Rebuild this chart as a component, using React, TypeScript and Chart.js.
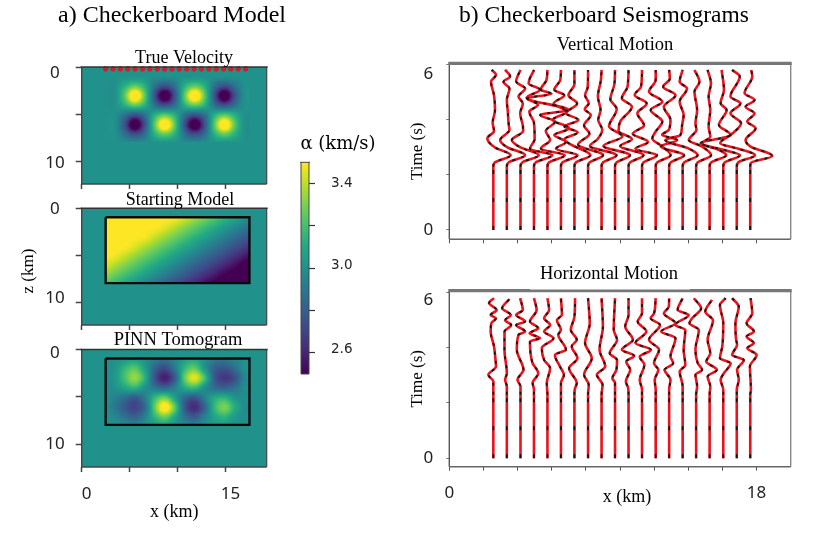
import { useEffect, useRef } from "react";
import { Chart, registerables } from "chart.js";

Chart.register(...registerables);

const W = 815;
const H = 535;
const SERIF = '"Liberation Serif", serif';

// ---------- Model panels ----------
const gridX = [2.35, 3.4, 4.45, 5.5, 6.55, 7.6, 8.65, 9.7, 10.75, 11.8, 12.85, 13.9, 14.95, 16.0, 17.05, 18.1];
const gridZ = [0.9, 1.95, 3.0, 4.05, 5.1, 6.15, 7.2, 8.25];
const modelXTicks = [0, 5, 10, 15];
const modelZTicks = [0, 5, 10];
const sourceX = [2.5, 3.27, 4.04, 4.8, 5.57, 6.34, 7.11, 7.88, 8.65, 9.42, 10.18, 10.95, 11.72, 12.49, 13.26, 14.03, 14.8, 15.56, 16.33, 17.1];
const boxX = [2.5, 17.5, 17.5, 2.5, 2.5];
const boxZ = [0.95, 0.95, 7.95, 7.95, 0.95];

const trueVelocity = [
  [3, 3, 3, 3, 3, 3, 3, 3, 3, 3, 3, 3, 3, 3, 3, 3],
  [3, 3, 3.13, 3.25, 3.13, 2.87, 2.75, 2.87, 3.13, 3.25, 3.13, 2.87, 2.75, 2.87, 3, 3],
  [3, 3, 3.25, 3.62, 3.25, 2.75, 2.38, 2.75, 3.25, 3.62, 3.25, 2.75, 2.38, 2.75, 3, 3],
  [3, 3, 3.13, 3.25, 3.13, 2.87, 2.75, 2.87, 3.13, 3.25, 3.13, 2.87, 2.75, 2.87, 3, 3],
  [3, 3, 2.87, 2.75, 2.87, 3.13, 3.25, 3.13, 2.87, 2.75, 2.87, 3.13, 3.25, 3.13, 3, 3],
  [3, 3, 2.75, 2.38, 2.75, 3.25, 3.62, 3.25, 2.75, 2.38, 2.75, 3.25, 3.62, 3.25, 3, 3],
  [3, 3, 2.87, 2.75, 2.87, 3.13, 3.25, 3.13, 2.87, 2.75, 2.87, 3.13, 3.25, 3.13, 3, 3],
  [3, 3, 3, 3, 3, 3, 3, 3, 3, 3, 3, 3, 3, 3, 3, 3],
];
const startingModel = [
  [3.5, 3.5, 3.5, 3.5, 3.5, 3.5, 3.5, 3.5, 3.43, 3.36, 3.29, 3.22, 3.15, 3.08, 3.01, 2.94],
  [3.5, 3.5, 3.5, 3.5, 3.5, 3.5, 3.46, 3.39, 3.32, 3.25, 3.18, 3.11, 3.04, 2.97, 2.9, 2.83],
  [3.5, 3.5, 3.5, 3.5, 3.49, 3.42, 3.35, 3.28, 3.21, 3.14, 3.07, 3.0, 2.93, 2.86, 2.79, 2.72],
  [3.5, 3.5, 3.5, 3.45, 3.38, 3.31, 3.24, 3.17, 3.1, 3.03, 2.96, 2.89, 2.82, 2.75, 2.68, 2.61],
  [3.5, 3.48, 3.41, 3.34, 3.27, 3.2, 3.13, 3.06, 2.99, 2.92, 2.85, 2.78, 2.71, 2.64, 2.57, 2.5],
  [3.44, 3.37, 3.3, 3.23, 3.16, 3.09, 3.02, 2.95, 2.88, 2.81, 2.74, 2.67, 2.6, 2.53, 2.46, 2.45],
  [3.33, 3.26, 3.19, 3.12, 3.05, 2.98, 2.91, 2.84, 2.77, 2.7, 2.63, 2.56, 2.49, 2.45, 2.45, 2.45],
  [3.22, 3.15, 3.08, 3.01, 2.94, 2.87, 2.8, 2.73, 2.66, 2.59, 2.52, 2.45, 2.45, 2.45, 2.45, 2.45],
];
const pinnTomogram = [
  [3.0, 3.0, 3.03, 3.06, 3.0, 2.93, 2.88, 2.96, 3.06, 3.1, 3.0, 2.92, 2.9, 2.96, 3.0, 3.0],
  [2.98, 3.02, 3.16, 3.24, 3.06, 2.82, 2.72, 2.9, 3.16, 3.26, 3.02, 2.8, 2.76, 2.86, 3.0, 3.0],
  [2.98, 3.03, 3.2, 3.34, 3.14, 2.76, 2.58, 2.78, 3.26, 3.46, 3.2, 2.78, 2.66, 2.74, 2.95, 3.0],
  [2.98, 3.0, 3.08, 3.14, 3.0, 2.9, 2.84, 2.94, 3.1, 3.16, 2.98, 2.86, 2.82, 2.88, 2.98, 3.0],
  [2.98, 2.94, 2.86, 2.78, 2.92, 3.16, 3.28, 3.06, 2.84, 2.76, 2.94, 3.1, 3.14, 3.02, 2.98, 3.0],
  [2.98, 2.9, 2.78, 2.7, 2.84, 3.26, 3.56, 3.26, 2.78, 2.62, 2.82, 3.16, 3.3, 3.12, 2.98, 3.0],
  [3.0, 2.96, 2.88, 2.82, 2.94, 3.14, 3.26, 3.08, 2.88, 2.8, 2.94, 3.08, 3.14, 3.03, 2.98, 3.0],
  [3.0, 3.0, 2.98, 2.96, 3.0, 3.03, 3.05, 3.0, 2.97, 2.95, 3.0, 3.02, 3.03, 3.0, 3.0, 3.0],
];

const colorbarTicks = [2.6, 2.8, 3.0, 3.2, 3.4];
const colorbarLabels = ["2.6", "", "3.0", "", "3.4"];
const viridis = ["#440154", "#482475", "#414487", "#355f8d", "#2a788e", "#21918c", "#22a884", "#44bf70", "#7ad151", "#bddf26", "#fde725"];

// ---------- Seismograms ----------
const receiverX = [2.58, 3.37, 4.17, 4.96, 5.75, 6.54, 7.33, 8.13, 8.92, 9.71, 10.5, 11.29, 12.09, 12.88, 13.67, 14.46, 15.25, 16.05, 16.84, 17.63];
const seisXTicks = [0, 2, 4, 6, 8, 10, 12, 14, 16, 18];
const seisYTicks = [0, 2, 4, 6];
const AMP_GAIN = 0.0195; // km of offset per unit of trace amplitude

// each trace: [time s, amplitude] at its turning points
const verticalTraces = [
  [[5.82, -5], [5.64, 8], [5.39, -7], [4.9, 2], [4.36, 5], [3.9, -2], [3.6, 2], [3.33, -18], [3.0, 5], [2.72, 52], [2.46, 5]],
  [[5.82, -5], [5.58, 10], [5.39, -10], [5.14, 8], [4.73, 0], [4.3, 3], [3.8, 6], [3.64, 8], [3.27, -20], [3.0, 2], [2.72, 55], [2.46, 6]],
  [[5.82, 0], [5.4, -13], [5.14, 14], [4.85, -6], [4.6, 7], [4.24, -1], [3.8, 7], [3.6, 8], [3.27, -26], [3.0, 0], [2.72, 55], [2.46, 6]],
  [[5.82, 0], [5.33, -16], [5.1, 18], [4.8, -22], [4.55, 12], [4.3, -14], [3.9, 0], [3.3, 2], [2.95, -12], [2.72, 55], [2.46, 6]],
  [[5.82, 0], [5.45, -3], [5.1, -20], [4.95, 12], [4.79, -60], [4.36, 63], [4.18, -22], [3.94, 23], [3.6, -5], [3.27, 8], [2.95, -20], [2.72, 52], [2.46, 5]],
  [[5.82, 0], [5.45, -2], [5.1, -20], [4.9, 10], [4.6, -22], [4.3, 18], [4.0, -25], [3.7, 25], [3.45, -20], [3.2, 15], [2.95, -15], [2.72, 50], [2.46, 5]],
  [[5.82, 0], [5.3, 0], [4.9, -18], [4.6, 8], [4.24, -25], [4.0, 12], [3.76, -30], [3.55, 10], [3.3, -30], [3.1, -10], [2.72, 48], [2.46, 5]],
  [[5.82, 0], [5.2, -1], [4.9, -9], [4.6, 2], [4.4, -10], [4.18, 8], [3.8, -12], [3.5, 4], [3.1, -30], [2.72, 45], [2.46, 5]],
  [[5.82, 0], [5.45, -2], [4.85, -11], [4.36, -3], [4.0, -10], [3.64, 2], [3.3, -12], [3.05, -35], [2.72, 45], [2.46, 5]],
  [[5.82, 0], [5.3, -2], [4.75, -14], [4.4, 5], [3.76, -18], [3.4, 22], [3.05, -35], [2.72, 45], [2.46, 5]],
  [[5.82, 0], [5.21, -3], [4.79, -20], [4.48, 10], [3.94, -25], [3.6, -30], [3.3, 10], [3.05, -25], [2.72, 45], [2.46, 5]],
  [[5.82, 0], [5.21, -3], [4.91, -22], [4.6, 14], [4.24, -14], [3.8, 6], [3.5, -28], [3.2, 18], [2.95, -20], [2.72, 45], [2.46, 5]],
  [[5.82, 0], [5.45, 0], [5.03, -20], [4.66, 20], [4.36, -15], [3.94, 20], [3.58, 0], [3.33, -10], [3.05, 18], [2.72, 45], [2.46, 5]],
  [[5.82, 0], [5.5, 2], [5.21, -18], [4.9, 19], [4.48, -16], [4.0, 4], [3.64, -1], [3.45, -21], [3.27, 24], [3.03, -25], [2.72, 45], [2.46, 5]],
  [[5.82, 0], [5.39, -9], [5.14, 13], [4.66, -9], [4.18, 3], [3.76, -2], [3.45, -7], [3.27, -52], [2.95, 20], [2.72, 45], [2.46, 5]],
  [[5.82, -5], [5.39, 10], [5.03, -5], [4.36, 3], [3.88, -2], [3.64, 1], [3.27, -22], [3.03, 18], [2.72, 45], [2.46, 5]],
  [[5.82, -6], [5.33, 4], [4.85, -3], [4.36, 2], [3.76, -3], [3.39, 2], [3.15, -23], [2.9, 30], [2.72, 50], [2.46, 5]],
  [[5.82, -5], [5.09, 2], [4.61, -8], [4.36, 10], [3.82, -13], [3.45, 22], [3.15, -68], [2.9, 5], [2.72, 50], [2.46, 5]],
  [[5.82, -14], [5.58, 9], [4.85, -19], [4.6, 11], [4.24, -19], [3.88, 13], [3.5, -14], [3.15, -50], [2.95, 5], [2.72, 55], [2.46, 5]],
  [[5.82, 3], [5.58, 6], [4.97, -17], [4.73, 13], [4.48, -14], [4.24, 13], [3.94, -9], [3.7, 16], [3.27, -14], [3.03, 1], [2.69, 66], [2.44, 2]],
];
const verticalQuiet = [[2.3, 0], [0, 0]];

const horizontalTraces = [
  [[5.8, 2], [5.62, -13], [5.37, 10], [5.19, -8], [5.07, 8], [4.89, -6], [4.59, -8], [4.05, 2], [3.5, 7], [3.32, 8], [3.02, -15], [2.78, 0]],
  [[5.77, 8], [5.43, -14], [5.19, 12], [5.0, -5], [4.83, 13], [4.59, -7], [3.93, -7], [3.08, 0], [2.84, -5], [2.6, 0]],
  [[5.8, -1], [5.37, 7], [5.19, -13], [4.95, 14], [4.83, -13], [4.59, 14], [4.47, -6], [3.93, -11], [3.2, 9], [2.84, -9], [2.6, 0]],
  [[5.8, 0], [5.37, 8], [4.95, -12], [4.71, 13], [4.53, -13], [4.35, 18], [4.23, -12], [3.44, -4], [3.08, 13], [2.72, -4], [2.48, 0]],
  [[5.8, 0], [5.37, 5], [5.07, -10], [4.83, 8], [4.59, -10], [4.35, 18], [3.99, -17], [3.56, -10], [3.26, 8], [2.72, -2]],
  [[5.8, 0], [5.2, 3], [5.0, -12], [4.65, 0], [4.47, -8], [3.93, 15], [3.74, -18], [3.32, -3], [3.02, 9], [2.72, 0]],
  [[5.8, 2], [5.12, 0], [4.65, -11], [4.29, 7], [4.05, -8], [3.62, 9], [3.26, -16], [2.72, 7], [2.5, 1]],
  [[5.8, 0], [4.89, 5], [4.17, -9], [3.62, 11], [3.02, -12], [2.66, 2]],
  [[5.8, 0], [4.77, 4], [3.93, -6], [3.32, 11], [3.02, -14], [2.66, 3]],
  [[5.8, 0], [4.65, -4], [4.29, 6], [3.8, -16], [3.56, 6], [3.2, 4], [2.9, -8], [2.72, 0]],
  [[5.8, 0], [5.19, 0], [4.77, -10], [4.29, 13], [3.93, -20], [3.71, 17], [3.5, -7], [3.2, 5], [2.78, -8], [2.54, -1]],
  [[5.8, 0], [5.25, 0], [4.95, -13], [4.59, 13], [4.17, -20], [3.93, 27], [3.68, -7], [3.38, 7], [2.84, -7], [2.48, 0]],
  [[5.8, 0], [5.25, -5], [5.07, -15], [4.83, 13], [4.29, -20], [3.93, 10], [3.44, -5], [3.2, 8], [2.84, -3], [2.48, 0]],
  [[5.8, 0], [5.49, -1], [5.25, -16], [4.89, 19], [4.59, -24], [4.35, 19], [3.68, 4], [3.44, 12], [3.2, -14], [2.84, 4], [2.48, 0]],
  [[5.8, 0], [5.37, -15], [5.19, 18], [4.83, -22], [4.65, 8], [3.93, 3], [3.38, 8], [3.14, -9], [2.6, 0]],
  [[5.8, -7], [5.43, 15], [5.07, -12], [4.89, -20], [4.65, 8], [3.93, -2], [3.44, 5], [3.2, 18], [3.02, -2], [2.6, 3]],
  [[5.74, 7], [5.31, -13], [5.0, 10], [4.29, -6], [3.8, 2], [3.5, -10], [3.2, 22], [2.96, -6], [2.6, 2]],
  [[5.8, 7], [5.55, -10], [4.89, 0], [4.05, -3], [3.62, -10], [3.44, 22], [3.08, 2], [2.84, -8], [2.48, 0]],
  [[5.8, -14], [5.49, 6], [4.89, -4], [4.3, -2], [4.11, 1], [3.74, -14], [3.56, 21], [3.2, 1], [2.84, 6], [2.48, 0]],
  [[5.8, 1], [5.25, 6], [4.89, -11], [4.59, 11], [4.41, -11], [4.17, 11], [3.99, -9], [3.74, 19], [3.32, -1], [2.48, 2]],
];
const horizontalQuiet = [[2.3, 0], [0, 0]];

// ---------- Text ----------
const texts1 = [
  { t: "a) Checkerboard Model", x: 172, y: 16, font: `24px ${SERIF}` },
  { t: "True Velocity", x: 184, y: 58, font: `18px ${SERIF}` },
];
const texts2 = [
  { t: "Starting Model", x: 180, y: 200, font: `18px ${SERIF}` },
  { t: "z (km)", x: 29, y: 271, font: `17px ${SERIF}`, rot: -Math.PI / 2 },
];
const texts3 = [{ t: "PINN Tomogram", x: 178, y: 340, font: `18.5px ${SERIF}` }];
const textsV = [
  { t: "b) Checkerboard Seismograms", x: 604, y: 16, font: `23.5px ${SERIF}` },
  { t: "Vertical Motion", x: 615, y: 45, font: `18.5px ${SERIF}` },
];
const textsH = [
  { t: "Horizontal Motion", x: 609, y: 274, font: `18.5px ${SERIF}` },
  { t: "x (km)", x: 627, y: 497, font: `18px ${SERIF}` },
];
const textsC = [{ t: "\u03b1 (km/s)", x: 338, y: 144, font: `18px "DejaVu Serif", serif` }];

// ---------- Helpers ----------
type Rect = { left: number; right: number; top: number; bottom: number };
const hexRgb = (h: string) => [1, 3, 5].map((i) => parseInt(h.slice(i, i + 2), 16));
function colorOf(v: number) {
  const f = Math.min(Math.max((v - 2.5) / 1.0, 0), 1) * (viridis.length - 1);
  const i = Math.min(Math.floor(f), viridis.length - 2);
  const a = hexRgb(viridis[i]);
  const b = hexRgb(viridis[i + 1]);
  return a.map((c, k) => c + (b[k] - c) * (f - i));
}
function layoutFor(r: Rect, yW: number, xH: number) {
  return { left: r.left - yW, right: W - r.right, top: r.top, bottom: H - r.bottom - xH };
}
const textPlugin = (items: { t: string; x: number; y: number; font: string; rot?: number }[]) => ({
  id: "figureText",
  afterDraw(chart: any) {
    const c = chart.ctx;
    for (const it of items) {
      c.save();
      c.fillStyle = "#000";
      c.textAlign = "center";
      c.textBaseline = "middle";
      c.font = it.font;
      c.translate(it.x, it.y);
      if (it.rot) c.rotate(it.rot);
      c.fillText(it.t, 0, 0);
      c.restore();
    }
  },
});
const nudgePlugin = (axis: string, map: Record<string, [number, number]>) => ({
  id: "tickNudge",
  beforeDraw(chart: any) {
    if (chart.$nudged?.[axis]) return;
    chart.$nudged = { ...(chart.$nudged || {}), [axis]: true };
    chart.scales[axis].getLabelItems().forEach((item: any) => {
      const d = map[String(item.label)];
      if (d) {
        const tr = item.options.translation;
        item.options.translation = [tr[0] + d[0], tr[1] + d[1]];
      }
    });
  },
});
const framePlugin = (f: { top: [string, number]; right: [string, number]; bottom: [string, number]; left: [string, number] }, patch?: number[]) => ({
  id: "frame",
  afterDatasetsDraw(chart: any) {
    const c = chart.ctx;
    const a = chart.chartArea;
    const seg = (st: [string, number], x0: number, y0: number, x1: number, y1: number) => {
      c.strokeStyle = st[0];
      c.lineWidth = st[1];
      c.beginPath();
      c.moveTo(x0, y0);
      c.lineTo(x1, y1);
      c.stroke();
    };
    c.save();
    seg(f.left, a.left, a.top, a.left, a.bottom);
    seg(f.right, a.right, a.top, a.right, a.bottom);
    seg(f.bottom, a.left, a.bottom, a.right, a.bottom);
    seg(f.top, a.left - 1, a.top, a.right + 1, a.top);
    if (patch) {
      c.fillStyle = "#fff";
      c.fillRect(patch[0], patch[1], patch[2], patch[3]);
    }
    c.restore();
  },
});
// Catmull-Rom resampling of the cell table, so peaks pass through their read values
const catmull = (p0: number, p1: number, p2: number, p3: number, t: number) =>
  0.5 * (2 * p1 + (p2 - p0) * t + (2 * p0 - 5 * p1 + 4 * p2 - p3) * t * t + (3 * p1 - p0 - 3 * p2 + p3) * t * t * t);
function sampleGrid(values: number[][], u: number, v: number) {
  const rows = values.length;
  const cols = values[0].length;
  const cl = (n: number, m: number) => Math.max(0, Math.min(m - 1, n));
  const j = Math.min(Math.floor(v), rows - 2);
  const i = Math.min(Math.floor(u), cols - 2);
  const col = [-1, 0, 1, 2].map((dj) => {
    const r = values[cl(j + dj, rows)];
    return catmull(r[cl(i - 1, cols)], r[i], r[i + 1], r[cl(i + 2, cols)], u - i);
  });
  return catmull(col[0], col[1], col[2], col[3], v - j);
}
const heatPlugin = (values: number[][]) => ({
  id: "heat",
  beforeDatasetsDraw(chart: any) {
    const c = chart.ctx;
    const a = chart.chartArea;
    const xs = chart.scales.x;
    const ys = chart.scales.y;
    c.save();
    c.fillStyle = "rgb(33,145,140)";
    c.fillRect(a.left, a.top, a.right - a.left, a.bottom - a.top);
    const ss = 8;
    const off = document.createElement("canvas");
    off.width = (gridX.length - 1) * ss + 1;
    off.height = (gridZ.length - 1) * ss + 1;
    const o = off.getContext("2d")!;
    const img = o.createImageData(off.width, off.height);
    for (let y = 0; y < off.height; y++) {
      for (let x = 0; x < off.width; x++) {
        const [r, g, b] = colorOf(sampleGrid(values, x / ss, y / ss));
        const k = (y * off.width + x) * 4;
        img.data[k] = r;
        img.data[k + 1] = g;
        img.data[k + 2] = b;
        img.data[k + 3] = 255;
      }
    }
    o.putImageData(img, 0, 0);
    const bx0 = xs.getPixelForValue(boxX[0]);
    const bx1 = xs.getPixelForValue(boxX[1]);
    const bz0 = ys.getPixelForValue(boxZ[0]);
    const bz1 = ys.getPixelForValue(boxZ[2]);
    c.beginPath();
    c.rect(bx0, bz0, bx1 - bx0, bz1 - bz0);
    c.clip();
    c.imageSmoothingEnabled = true;
    c.imageSmoothingQuality = "high";
    const px0 = xs.getPixelForValue(gridX[0]);
    const px1 = xs.getPixelForValue(gridX[gridX.length - 1]);
    const pz0 = ys.getPixelForValue(gridZ[0]);
    const pz1 = ys.getPixelForValue(gridZ[gridZ.length - 1]);
    c.drawImage(off, px0, pz0, px1 - px0, pz1 - pz0);
    c.restore();
  },
});

const tickFont = { family: '"Noto Sans", sans-serif', size: 17 };
const serifFont = { family: '"Liberation Serif", serif', size: 18 };

function modelConfig(r: Rect, values: number[][], opts: { showBox: boolean; showSources: boolean; xLabels: boolean; xTitle: boolean; nudge: Record<string, [number, number]>; texts: any[] }) {
  const cells = values.flatMap((row, j) => row.map((v, i) => ({ x: gridX[i], y: gridZ[j], v })));
  const datasets: any[] = [{ label: "velocity", data: cells, pointRadius: 0, showLine: false }];
  if (opts.showBox)
    datasets.push({
      label: "box",
      data: boxX.map((x, i) => ({ x, y: boxZ[i] })),
      showLine: true,
      pointRadius: 0,
      borderColor: "#0a0a0a",
      borderWidth: 2.4,
      tension: 0,
    });
  if (opts.showSources)
    datasets.push({
      label: "sources",
      data: sourceX.map((x) => ({ x, y: 0.2 })),
      showLine: false,
      pointRadius: 2.4,
      pointStyle: "rectRounded",
      backgroundColor: "#c4242a",
      borderColor: "#c4242a",
      clip: false,
    });
  const xH = opts.xTitle ? 56 : 10;
  return {
    type: "scatter",
    data: { datasets },
    options: {
      responsive: false,
      animation: false,
      events: [],
      layout: { padding: layoutFor(r, 62, xH) },
      plugins: { legend: { display: false }, tooltip: { enabled: false }, title: { display: false } },
      scales: {
        x: {
          type: "linear",
          min: 0,
          max: 19.3,
          afterFit: (s: any) => (s.height = xH),
          afterBuildTicks: (s: any) => (s.ticks = modelXTicks.map((value) => ({ value }))),
          grid: { drawOnChartArea: false, drawTicks: true, tickLength: 5, tickColor: "#444", tickWidth: 1.5 },
          border: { display: false },
          title: { display: opts.xTitle, text: "x (km)", font: serifFont, color: "#000", padding: 0 },
          ticks: {
            autoSkip: false,
            maxRotation: 0,
            font: tickFont,
            color: "#222",
            padding: 12,
            labelOffset: 5,
            callback: (v: number) => (opts.xLabels && (v === 0 || v === 15) ? String(v) : ""),
          },
        },
        y: {
          type: "linear",
          reverse: true,
          min: 0,
          max: 12.4,
          afterFit: (s: any) => (s.width = 62),
          afterBuildTicks: (s: any) => (s.ticks = modelZTicks.map((value) => ({ value }))),
          grid: { drawOnChartArea: false, drawTicks: true, tickLength: 6, tickColor: "#444", tickWidth: 1.5 },
          border: { display: false },
          ticks: {
            autoSkip: false,
            font: tickFont,
            color: "#222",
            padding: 11,
            crossAlign: "center",
            callback: (v: number) => (v === 5 ? "" : String(v)),
          },
        },
      },
    },
    plugins: [
      heatPlugin(values),
      framePlugin({ top: ["#333", 1.6], right: ["#444", 1.2], bottom: ["#444", 1.4], left: ["#444", 1.4] }),
      nudgePlugin("y", opts.nudge),
      textPlugin(opts.texts),
    ],
  };
}

function seisConfig(r: Rect, yMin: number, yMax: number, traces: number[][][], quiet: number[][], opts: { xLabels: boolean; nudge: Record<string, [number, number]>; texts: any[]; patch?: number[] }) {
  const pointsOf = (trace: number[][], i: number) =>
    [...trace, ...quiet]
      .map(([t, a]) => ({ x: receiverX[i] + a * AMP_GAIN, y: t }))
      .sort((p, q) => p.y - q.y);
  const red = traces.map((tr, i) => ({
    label: `observed ${i + 1}`,
    data: pointsOf(tr, i),
    borderColor: "#e8131b",
    borderWidth: 2.6,
    pointRadius: 0,
    cubicInterpolationMode: "monotone",
    order: 2,
  }));
  const black = traces.map((tr, i) => ({
    label: `predicted ${i + 1}`,
    data: pointsOf(tr, i),
    borderColor: "#151515",
    borderWidth: 1.8,
    pointRadius: 0,
    cubicInterpolationMode: "monotone",
    borderDash: [3, 6],
    order: 1,
    segment: { borderDash: (ctx: any) => (ctx.p0.parsed.y < 2.2 ? [4, 24] : [3, 6]) },
  }));
  const xH = 50;
  return {
    type: "line",
    data: { datasets: [...black, ...red] },
    options: {
      responsive: false,
      animation: false,
      events: [],
      indexAxis: "y",
      layout: { padding: layoutFor(r, 42, xH) },
      plugins: { legend: { display: false }, tooltip: { enabled: false }, title: { display: false } },
      scales: {
        x: {
          type: "linear",
          min: 0,
          max: 20,
          afterFit: (s: any) => (s.height = xH),
          afterBuildTicks: (s: any) => (s.ticks = seisXTicks.map((value) => ({ value }))),
          grid: { drawOnChartArea: false, drawTicks: true, tickLength: 4, tickColor: "#555" },
          border: { display: false },
          ticks: {
            autoSkip: false,
            maxRotation: 0,
            font: tickFont,
            color: "#222",
            padding: 12,
            callback: (v: number) => (opts.xLabels && (v === 0 || v === 18) ? String(v) : ""),
          },
        },
        y: {
          type: "linear",
          min: yMin,
          max: yMax,
          afterFit: (s: any) => (s.width = 42),
          afterBuildTicks: (s: any) => (s.ticks = seisYTicks.map((value) => ({ value }))),
          grid: { drawOnChartArea: false, drawTicks: true, tickLength: 3, tickColor: "#777" },
          border: { display: false },
          title: { display: true, text: "Time (s)", font: { family: '"Liberation Serif", serif', size: 17 }, color: "#000", padding: 0 },
          ticks: {
            autoSkip: false,
            font: tickFont,
            color: "#222",
            padding: 13,
            crossAlign: "center",
            callback: (v: number) => (v === 0 || v === 6 ? String(v) : ""),
          },
        },
      },
    },
    plugins: [
      framePlugin({ top: ["#777", 3.2], right: ["#888", 1.4], bottom: ["#666", 1.4], left: ["#555", 1.4] }, opts.patch),
      nudgePlugin("y", opts.nudge),
      textPlugin(opts.texts),
    ],
  };
}

function colorbarConfig() {
  const r = { left: 301, right: 309, top: 162.3, bottom: 374 };
  return {
    type: "bar",
    data: {
      labels: ["alpha"],
      datasets: [
        {
          label: "alpha",
          data: [[2.5, 3.5]],
          barPercentage: 1,
          categoryPercentage: 1,
          backgroundColor: (ctx: any) => {
            const a = ctx.chart.chartArea;
            if (!a) return viridis[5];
            const g = ctx.chart.ctx.createLinearGradient(0, a.bottom, 0, a.top);
            viridis.forEach((c, i) => g.addColorStop(i / (viridis.length - 1), c));
            return g;
          },
        },
      ],
    },
    options: {
      responsive: false,
      animation: false,
      events: [],
      layout: { padding: { left: r.left, right: W - r.right - 60, top: r.top, bottom: H - r.bottom } },
      plugins: { legend: { display: false }, tooltip: { enabled: false }, title: { display: false } },
      scales: {
        x: { display: false },
        y: {
          position: "right",
          type: "linear",
          min: 2.5,
          max: 3.5,
          afterFit: (s: any) => (s.width = 60),
          afterBuildTicks: (s: any) => (s.ticks = colorbarTicks.map((value) => ({ value }))),
          grid: { drawOnChartArea: false, drawTicks: true, tickLength: 6, tickColor: "#333", tickWidth: 1.2 },
          border: { display: false },
          ticks: {
            autoSkip: false,
            font: { family: '"DejaVu Sans", sans-serif', size: 13.5 },
            color: "#222",
            padding: 16,
            callback: (v: number) => colorbarLabels[colorbarTicks.findIndex((t) => Math.abs(t - v) < 1e-6)] ?? "",
          },
        },
      },
    },
    plugins: [
      framePlugin({ top: ["#444", 1], right: ["#444", 1], bottom: ["#444", 1], left: ["#444", 1] }),
      nudgePlugin("y", { "3.0": [0, -3], "2.6": [0, -3] }),
      textPlugin(textsC),
    ],
  };
}

export default function App() {
  const refs = useRef<(HTMLCanvasElement | null)[]>([]);
  useEffect(() => {
    const x0 = 81.7;
    const x1 = 266.7;
    const configs: any[] = [
      modelConfig({ left: x0, right: x1, top: 67, bottom: 184 }, trueVelocity, {
        showBox: false, showSources: true, xLabels: false, xTitle: false,
        nudge: { "0": [0, 6], "10": [0, 2] }, texts: texts1,
      }),
      modelConfig({ left: x0, right: x1, top: 208.3, bottom: 325 }, startingModel, {
        showBox: true, showSources: false, xLabels: false, xTitle: false,
        nudge: { "0": [0, 1], "10": [0, -4] }, texts: texts2,
      }),
      modelConfig({ left: x0, right: x1, top: 349.5, bottom: 467 }, pinnTomogram, {
        showBox: true, showSources: false, xLabels: true, xTitle: true,
        nudge: { "0": [0, 4] }, texts: texts3,
      }),
      colorbarConfig(),
      seisConfig({ left: 449.3, right: 790.7, top: 63.3, bottom: 239.3 }, -0.34, 6.06, verticalTraces, verticalQuiet, {
        xLabels: false, nudge: { "6": [0, 9] }, texts: textsV,
      }),
      seisConfig({ left: 449.3, right: 790.7, top: 290.7, bottom: 466.7 }, -0.31, 6.07, horizontalTraces, horizontalQuiet, {
        xLabels: true, nudge: { "6": [0, 8] }, texts: textsH, patch: [530, 287, 160, 2.5],
      }),
    ];
    const charts = configs.map((cfg, i) => new Chart(refs.current[i]!, cfg));
    return () => charts.forEach((c) => c.destroy());
  }, []);
  return (
    <div style={{ position: "fixed", left: 0, top: 0, width: W, height: H, background: "#fff", overflow: "hidden" }}>
      {[0, 1, 2, 3, 4, 5].map((i) => (
        <canvas
          key={i}
          ref={(el) => {
            refs.current[i] = el;
          }}
          width={W}
          height={H}
          style={{ position: "absolute", left: 0, top: 0, width: W, height: H }}
        />
      ))}
    </div>
  );
}
